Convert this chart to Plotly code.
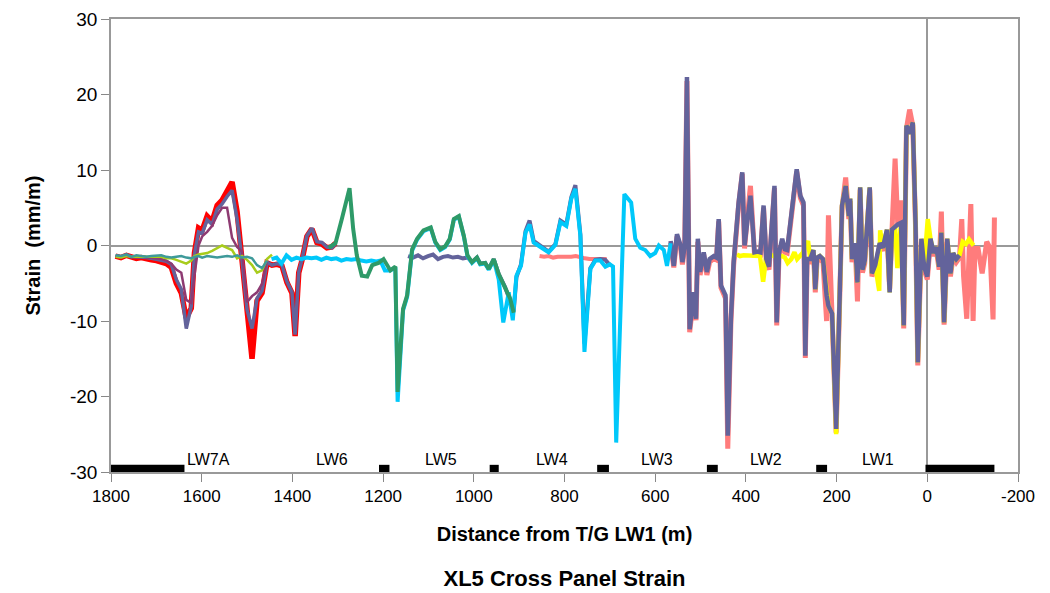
import plotly.graph_objects as go

# ---------------- data ----------------
# LW7A group (several surveys)
x_lw7a = [1790, 1778, 1766, 1755, 1744, 1733, 1722, 1711, 1700, 1689, 1678, 1667, 1656, 1645, 1634, 1623,
          1616, 1607, 1599, 1588, 1577, 1566, 1555, 1544, 1533, 1522, 1511, 1500, 1489, 1478, 1467, 1456,
          1445, 1434, 1423, 1412, 1401, 1394, 1386, 1379, 1368, 1357, 1346, 1335, 1324, 1313, 1305]
red_y = [-1.4, -1.6, -1.3, -1.5, -1.7, -1.6, -1.8, -1.9, -2.0, -2.2, -2.4, -2.9, -5.0, -6.3, -9.6, -8.3,
         -1.0, 2.3, 2.0, 3.9, 3.2, 5.3, 6.0, 7.2, 8.4, 4.5, -2.0, -8.8, -15.0, -7.3, -6.3, -2.3,
         -2.6, -2.5, -2.7, -4.9, -6.3, -12.0, -3.6, -2.0, 1.2, 2.2, 0.4, 0.2, -0.3, -0.2, 0.3]
slate_a_y = [-1.3, -1.5, -1.2, -1.5, -1.5, -1.5, -1.6, -1.7, -1.8, -1.9, -2.1, -2.5, -4.5, -5.8, -11.0, -8.0,
             -1.2, 1.8, 1.6, 3.4, 2.8, 4.8, 5.5, 6.5, 7.3, 3.5, -2.0, -8.5, -11.0, -7.0, -6.0, -2.2,
             -2.6, -2.4, -2.6, -4.8, -6.2, -11.8, -3.5, -1.9, 1.3, 2.3, 0.5, 0.4, -0.2, -0.3, 0.2]
x_plum = [1790, 1778, 1766, 1755, 1744, 1733, 1722, 1711, 1700, 1689, 1678, 1667, 1656, 1645, 1634, 1623,
          1616, 1607, 1599, 1588, 1577, 1566, 1555, 1544, 1533, 1522, 1511, 1500, 1489, 1478, 1467, 1456]
plum_y = [-1.4, -1.5, -1.3, -1.5, -1.6, -1.5, -1.6, -1.7, -1.8, -1.8, -2.0, -2.4, -3.2, -3.6, -7.2, -7.6,
          -4.0, 0.0, 1.2, 1.8, 2.6, 4.0, 5.0, 5.0, 1.0, -0.2, -0.8, -7.5, -6.7, -6.2, -5.1, -2.0]
teal_y = [-1.3, -1.4, -1.2, -1.5, -1.3, -1.4, -1.5, -1.4, -1.4, -1.3, -1.5, -1.6, -1.5, -1.4, -1.6, -1.7,
          -1.5, -1.4, -1.6, -1.4, -1.5, -1.6, -1.5, -1.4, -1.5, -1.3, -1.6, -1.5, -1.7, -2.6, -3.0, -2.0]
x_ygreen = [1790, 1778, 1766, 1755, 1744, 1733, 1722, 1711, 1700, 1689, 1678, 1667, 1656, 1645, 1634, 1623,
            1616, 1607, 1599, 1588, 1577, 1566, 1555, 1544, 1533, 1522, 1511, 1500, 1489, 1478, 1467, 1456, 1445]
ygreen_y = [-1.5, -1.6, -1.4, -1.5, -1.5, -1.5, -1.5, -1.6, -1.6, -1.5, -1.7, -1.7, -1.9, -2.2, -2.4, -2.0,
            -1.4, -1.2, -1.1, -1.0, -0.7, -0.4, 0.0, -0.3, -0.6, -1.7, -1.4, -1.9, -2.6, -3.6, -3.3, -1.8, -1.2]

# cyan survey
x_cyan = [1446, 1435, 1424, 1413, 1402, 1391, 1380, 1369, 1358, 1347,
          1336, 1325, 1314, 1303, 1292, 1281, 1270, 1259, 1248, 1237,
          1226, 1215, 1206, 1196, 1184, 1173, 1168, 1156, 1147, 1136,
          1125, 1111, 1095, 1085, 1074, 1063, 1053, 1044, 1033, 1022,
          1014, 1004, 993, 986, 975, 967, 956, 945, 935, 923,
          914, 906, 896, 886, 877, 868, 853, 835, 820, 809,
          796, 785, 776, 765, 756, 743, 732, 721, 710, 700,
          693, 686, 668, 653, 644, 633, 622, 611, 600, 592,
          581, 574, 566]
cyan_y = [-1.8, -1.6, -2.4, -1.3, -1.9, -1.6, -1.8, -1.6, -1.7, -1.6,
          -1.9, -1.6, -1.8, -1.7, -2.0, -1.8, -1.9, -1.8, -2.0, -2.1,
          -2.0, -2.1, -2.0, -3.3, -3.3, -2.9, -20.7, -8.6, -6.8, -0.7,
          0.8, 1.9, 2.3, 0.4, -0.6, -0.2, 0.8, 3.4, 3.8, 1.2,
          -1.4, -2.3, -1.7, -2.5, -2.4, -3.2, -1.9, -4.5, -10.2, -6.2,
          -9.9, -4.0, -2.7, 1.7, 2.8, 0.4, -0.2, -0.9, 0.1, 3.1,
          2.6, 6.2, 7.5, 1.3, -14.1, -3.1, -2.0, -2.0, -2.8, -2.5,
          -2.8, -26.1, 6.8, 5.7, 0.9, -0.3, -0.6, -1.4, -1.0, 0.0,
          -0.6, -2.7, 0.3]

# green survey
x_green = [1320, 1305, 1291, 1274, 1266, 1258, 1247, 1235, 1224, 1210,
           1199, 1184, 1173, 1168, 1156, 1147, 1136, 1125, 1111, 1095,
           1085, 1074, 1063, 1053, 1044, 1033, 1022, 1014, 1004, 993,
           986, 975, 967, 956, 945, 931, 920, 912]
green_y = [-0.3, 0.3, 3.5, 7.6, 2.2, -1.3, -4.0, -4.1, -2.6, -2.3,
           -1.8, -3.3, -2.8, -19.4, -8.4, -6.6, -0.5, 0.9, 2.0, 2.4,
           0.5, -0.5, -0.1, 0.9, 3.5, 3.9, 1.3, -1.3, -2.2, -1.6,
           -2.4, -2.3, -3.1, -1.8, -3.8, -5.5, -7.0, -8.9]

# slate survey, middle part
x_slate_mid = [1145, 1134, 1123, 1112, 1101, 1090, 1079, 1068, 1057, 1046,
               1035, 1024, 1013, 1004, 993, 986, 975, 967, 956, 945,
               931, 920, 912, 906, 896, 886, 877, 868, 853, 835,
               820, 809, 796, 785, 776, 765, 756, 743, 732, 721, 710, 700]
slate_mid_y = [-1.4, -1.6, -1.3, -1.7, -1.4, -1.2, -1.8, -1.5, -1.4, -1.6,
               -1.5, -1.7, -1.6, -2.2, -1.6, -2.4, -2.3, -3.1, -1.8, -3.8,
               -5.5, -7.5, -8.7, -4.2, -2.5, 1.9, 3.3, 0.6, -0.1, -0.8,
               0.2, 3.3, 2.8, 6.4, 8.0, 1.5, -13.0, -3.0, -1.9, -1.8, -1.9, -2.6]

# LW3 - LW1 region (slate on top, salmon beneath)
x_lw31 = [566, 559, 552, 544, 540, 535, 530, 524, 515, 510,
          506, 501, 493, 486, 480, 471, 465, 460, 455, 445,
          440, 433, 427, 421, 416, 408, 403, 397, 390, 381,
          374, 368, 361, 355, 349, 344, 337, 332, 327, 320,
          314, 309, 300, 288, 280, 273, 269, 265, 258, 251,
          247, 243, 237, 230, 222, 218, 210, 201, 194, 188,
          180, 173, 170, 166, 159, 154, 148, 143, 138, 127,
          122, 115, 105, 98, 89, 83, 78, 71, 65, 58,
          52, 46, 39, 32, 26, 21, 13, 7, 0, -7,
          -14, -20, -26, -31, -37, -44, -51, -57, -64, -71]
slate_y = [0.6, -2.7, 1.5, 0.0, -2.2, 0.0, 22.3, -11.1, -6.2, -9.7,
           0.9, -3.5, -0.9, -3.5, -1.8, -1.4, -1.6, 3.5, -5.3, -6.6,
           -25.2, -9.7, -2.2, 2.6, 5.7, 9.7, 0.0, 3.1, 6.6, -0.9,
           -0.8, -0.9, 5.3, -1.8, -2.8, 1.7, 7.9, -10.2, -1.0, 0.9,
           -0.5, -0.6, 4.4, 10.1, 6.6, 5.7, -14.6, -1.8, -1.8, -0.6,
           -5.8, -1.6, -1.4, -1.8, -6.6, -8.0, -9.0, -24.3, -8.6, 5.3,
           7.9, 3.9, 6.2, -1.8, 0.3, -4.9, 7.7, -3.2, -2.0, 7.7,
           -3.7, -2.6, 0.3, -0.3, 2.1, -6.2, 2.1, 2.5, 2.8, 3.0,
           -10.6, 15.9, 14.8, 16.3, 3.0, -15.5, 0.9, -2.8, -4.1, 0.9,
           -1.0, -0.2, -2.8, 1.7, -10.2, 0.9, -3.7, -1.0, -1.8, -1.3]
x_salmon = [566, 559, 552, 544, 540, 535, 530, 524, 515, 510,
            506, 501, 493, 486, 480, 471, 465, 460, 455, 445,
            440, 433, 427, 421, 416, 408, 403, 397, 390, 381,
            374, 368, 361, 355, 349, 344, 337, 332, 327, 320,
            314, 309, 300, 288, 280, 273, 269, 265, 258, 251,
            247, 243, 237, 230, 222, 218, 210, 201, 194, 188,
            180, 173, 170, 166, 159, 154, 148, 143, 138, 127,
            122, 115, 105, 98, 89, 83, 78, 71, 65, 58,
            52, 46, 39, 32, 26, 21, 13, 7, 0, -7,
            -14, -20, -26, -31, -37, -44, -51, -57, -64, -71,
            -76, -80, -87, -92, -96, -101, -105, -112, -121, -131,
            -138, -145, -148]
salmon_y = [0.4, -2.9, 1.2, -0.3, -2.5, -0.3, 21.8, -11.5, -6.6, -9.9,
            0.5, -3.9, -1.2, -3.9, -2.2, -1.7, -1.9, 3.2, -5.6, -7.0,
            -26.9, -10.1, -2.6, 2.3, 5.4, 9.5, -0.4, 3.6, 7.9, -1.2,
            -1.1, -1.2, 5.0, -2.2, -3.2, 1.4, 7.6, -10.6, -1.4, 0.5,
            -0.9, -1.0, 4.0, 9.8, 6.3, 5.3, -14.9, -2.2, -2.2, -1.0,
            -6.2, -2.0, -1.8, -2.2, -10.0, 4.0, -9.4, -24.8, -9.0, 5.0,
            9.0, 3.5, 5.9, -2.2, -0.1, -7.4, 7.4, -3.6, -2.4, 7.4,
            -4.1, -3.0, 0.0, -0.7, 1.8, -5.8, 1.8, 11.5, 2.5, 6.0,
            -11.0, 15.5, 18.0, 15.9, 2.6, -15.9, 0.5, -3.2, -4.5, 0.5,
            -1.4, -0.6, -3.2, 4.5, -10.5, 0.5, -4.1, -1.4, -2.2, -1.6,
            3.5, -4.1, -9.7, 1.0, 5.5, -10.0, -0.4, -0.4, -3.7, 0.5,
            -0.3, -9.8, 3.7]
x_salmon_flat = [855, 845, 835, 825, 815, 805, 795, 785, 775, 765, 755, 745, 735, 725, 715, 707]
salmon_flat_y = [-1.4, -1.5, -1.4, -1.6, -1.5, -1.5, -1.6, -1.5, -1.4, -1.6, -1.7, -1.8, -1.8, -1.9, -1.8, -1.8]

# yellow survey
x_yellow = [420, 413, 405, 397, 390, 383, 376, 369, 362, 355,
            349, 342, 335, 328, 320, 314, 308, 300, 293, 287,
            280, 275, 263, 258, 251, 247, 243, 237, 230, 222,
            218, 210, 201, 194, 188, 180, 173, 170, 166, 159,
            154, 148, 143, 138, 127, 122, 115, 106, 104, 98,
            89, 83, 78, 71, 66, 58, 52, 46, 39, 32,
            26, 21, 13, 7, -1, -7, -14, -20, -26, -31,
            -37, -44, -51, -57, -64, -71, -78, -85, -92, -98, -102]
yellow_y = [-1.2, -1.4, -1.3, -1.3, -1.3, -1.4, -1.3, -1.4, -4.8, -1.4,
            -1.4, -1.3, -1.5, -1.4, -1.4, -1.6, -2.3, -1.8, -0.9, -1.8,
            -1.4, -1.0, 0.6, -1.8, -0.6, -5.8, -1.6, -1.4, -1.8, -6.6,
            -8.0, -9.0, -25.0, -8.6, 5.3, 7.9, 3.9, 6.2, -1.8, 0.3,
            -4.9, 7.7, -3.2, -2.0, 7.7, -3.7, -2.6, -6.0, 2.0, -0.3,
            2.1, -6.2, 2.1, 2.5, -3.0, 3.0, -10.6, 15.9, 14.8, 16.3,
            3.0, -15.5, 0.9, -2.8, 3.5, 0.9, -1.0, -0.2, -2.8, 1.7,
            -10.2, 0.9, -3.7, -1.0, -1.8, -1.3, 0.5, 0.2, 0.8, 0.3, 0.0]

# panel labels and pillars
panel_labels = ["LW7A", "LW6", "LW5", "LW4", "LW3", "LW2", "LW1"]
panel_label_x = [1584, 1312, 1073, 827, 596, 356, 109]
pillar_start = [1800, 1209, 965, 728, 486, 245, 4]
pillar_end = [1638, 1186, 945, 702, 462, 221, -148]

x_tick_vals = [1800, 1600, 1400, 1200, 1000, 800, 600, 400, 200, 0, -200]
x_tick_text = ["1800", "1600", "1400", "1200", "1000", "800", "600", "400", "200", "0", "-200"]
y_tick_vals = [-30, -20, -10, 0, 10, 20, 30]
y_tick_text = ["-30", "-20", "-10", "0", "10", "20", "30"]

# ---------------- figure ----------------
fig = go.Figure()


def add(x, y, color, width):
    fig.add_trace(go.Scatter(x=x, y=y, mode="lines", line=dict(color=color, width=width),
                             hoverinfo="skip", showlegend=False))


add(x_salmon_flat, salmon_flat_y, "#FF7C7C", 4)
add(x_salmon, salmon_y, "#FF7C7C", 5)
add(x_yellow, yellow_y, "#FFFF00", 4.5)
add(x_lw7a, red_y, "#FF0000", 5.5)
add(x_lw7a, slate_a_y, "#63639B", 3.5)
add(x_slate_mid, slate_mid_y, "#63639B", 4)
add(x_lw31, slate_y, "#63639B", 4.5)
add(x_plum, plum_y, "#8E3A72", 2.5)
add(x_ygreen, ygreen_y, "#A8CC1C", 2.5)
add(x_plum, teal_y, "#3E9A9A", 2.5)
add(x_cyan, cyan_y, "#00C8FA", 4)
add(x_green, green_y, "#2E9A68", 4)

for x0, x1 in zip(pillar_start, pillar_end):
    fig.add_shape(type="rect", xref="x", yref="y", x0=x0, x1=x1, y0=-30, y1=-29.05,
                  fillcolor="black", line=dict(width=0), layer="above")

for lab, lx in zip(panel_labels, panel_label_x):
    fig.add_annotation(x=lx, y=-28.4, xref="x", yref="y", text=lab, showarrow=False,
                       font=dict(size=16, color="black"))

axis_common = dict(showline=True, mirror=True, linecolor="#999999", linewidth=1.5,
                   ticks="outside", ticklen=8, tickcolor="#888888", tickwidth=1,
                   showgrid=False, zeroline=True, zerolinecolor="#999999", zerolinewidth=1.5)

fig.update_layout(
    width=1042, height=585,
    margin=dict(l=103, r=32, t=11, b=121),
    paper_bgcolor="white", plot_bgcolor="white",
    font=dict(family="Liberation Sans, Arial, sans-serif", color="black"),
    showlegend=False,
    title=dict(text="<b>XL5 Cross Panel Strain</b>", font=dict(size=22, color="black"),
               x=0.5, xref="paper", xanchor="center", y=1 - 570 / 585, yref="container",
               yanchor="middle"),
    xaxis=dict(range=[1800, -200], tickvals=x_tick_vals, ticktext=x_tick_text,
               tickfont=dict(size=17), automargin=False,
               title=dict(text="<b>Distance from T/G LW1 (m)</b>", font=dict(size=20), standoff=22),
               **axis_common),
    yaxis=dict(range=[-30, 30], tickvals=y_tick_vals, ticktext=y_tick_text,
               tickfont=dict(size=19), automargin=False,
               title=dict(text="<b>Strain\u00a0 (mm/m)</b>", font=dict(size=20), standoff=24),
               **axis_common),
)

fig.write_html("out.html")
